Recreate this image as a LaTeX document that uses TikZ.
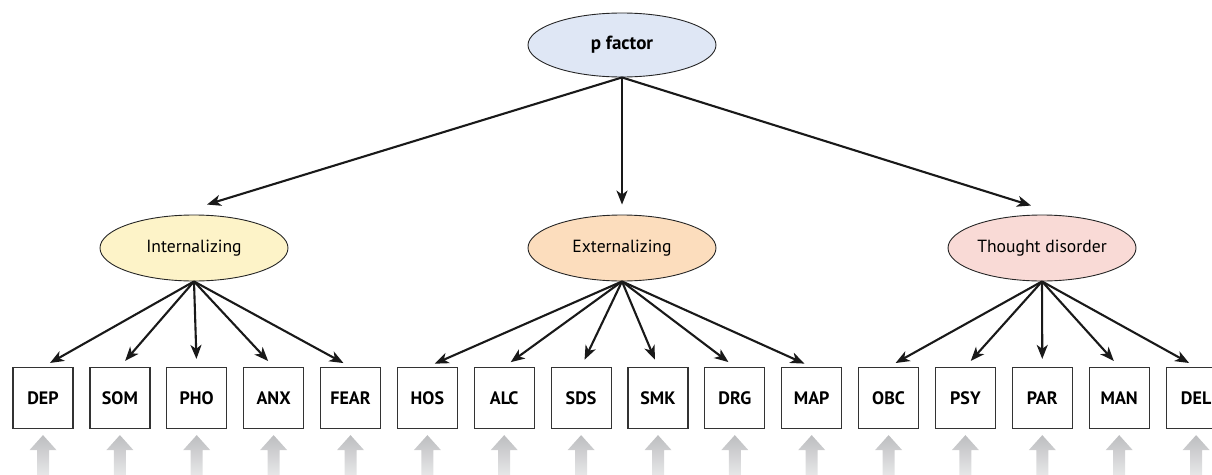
\documentclass[tikz,border=0pt]{standalone}
\usepackage{fontspec}
\setmainfont{PT Sans}
\usetikzlibrary{shapes.geometric,arrows.meta,calc}
\definecolor{pblue}{HTML}{DFE7F5}
\definecolor{intyellow}{HTML}{FDF3C8}
\definecolor{extorange}{HTML}{FCDDBD}
\definecolor{thdpink}{HTML}{F9DAD6}
\definecolor{feedgray}{HTML}{BDBEC0}
\definecolor{feedlight}{HTML}{ECECED}
\tikzset{
  factor/.style={ellipse,draw=black!85,line width=0.9pt,minimum width=188pt,minimum height=66pt,inner sep=0pt,font=\fontsize{17.6}{20}\selectfont},
  measure/.style={draw=black!80,line width=1.2pt,minimum width=60pt,minimum height=61pt,inner sep=0pt,font=\bfseries\fontsize{18}{21}\selectfont},
  link/.style={-{Stealth[length=14pt,width=11pt,inset=4pt]},line width=2.1pt,black!90},
  feed/.style={top color=feedgray,bottom color=feedlight}
}
\begin{document}
\begin{tikzpicture}[x=1pt,y=-1pt]
    \useasboundingbox (0,0) rectangle (1212,474);

    % factors
    \node[factor,fill=pblue,minimum height=64pt,font=\bfseries\fontsize{19}{22}\selectfont] (p) at (622,45) {p factor};
    \node[factor,fill=intyellow] (int) at (194,248) {Internalizing};
    \node[factor,fill=extorange] (ext) at (622,248) {Externalizing};
    \node[factor,fill=thdpink] (thd) at (1042,248) {Thought disorder};

    % measures
    \node[measure] (DEP) at (43,398) {DEP};
    \node[measure] (SOM) at (119.9,398) {SOM};
    \node[measure] (PHO) at (196.7,398) {PHO};
    \node[measure] (ANX) at (273.6,398) {ANX};
    \node[measure] (FEAR) at (350.5,398) {FEAR};
    \node[measure] (HOS) at (427.4,398) {HOS};
    \node[measure] (ALC) at (504.2,398) {ALC};
    \node[measure] (SDS) at (581.1,398) {SDS};
    \node[measure] (SMK) at (658,398) {SMK};
    \node[measure] (DRG) at (734.8,398) {DRG};
    \node[measure] (MAP) at (811.7,398) {MAP};
    \node[measure] (OBC) at (888.6,398) {OBC};
    \node[measure] (PSY) at (965.4,398) {PSY};
    \node[measure] (PAR) at (1042.3,398) {PAR};
    \node[measure] (MAN) at (1119.2,398) {MAN};
    \node[measure] (DEL) at (1196.1,398) {DEL};

    % p factor -> factors
    \draw[link] (p.south) -- ($(int.north)+(13,-10)$);
    \draw[link] (p.south) -- ($(ext.north)+(0,-10)$);
    \draw[link] (p.south) -- ($(thd.north)+(-11,-9)$);

    % factors -> measures
    \draw[link,shorten >=8pt] (int.south) -- (DEP.north);
    \draw[link,shorten >=8pt] (int.south) -- (SOM.north);
    \draw[link,shorten >=8pt] (int.south) -- (PHO.north);
    \draw[link,shorten >=8pt] (int.south) -- (ANX.north);
    \draw[link,shorten >=8pt] (int.south) -- (FEAR.north);

    \draw[link,shorten >=8pt] (ext.south) -- (HOS.north);
    \draw[link,shorten >=8pt] (ext.south) -- (ALC.north);
    \draw[link,shorten >=8pt] (ext.south) -- (SDS.north);
    \draw[link,shorten >=8pt] (ext.south) -- (SMK.north);
    \draw[link,shorten >=8pt] (ext.south) -- (DRG.north);
    \draw[link,shorten >=8pt] (ext.south) -- (MAP.north);

    \draw[link,shorten >=8pt] (thd.south) -- (OBC.north);
    \draw[link,shorten >=8pt] (thd.south) -- (PSY.north);
    \draw[link,shorten >=8pt] (thd.south) -- (PAR.north);
    \draw[link,shorten >=8pt] (thd.south) -- (MAN.north);
    \draw[link,shorten >=8pt] (thd.south) -- (DEL.north);

    % gray input arrows
    \foreach \m in {DEP,SOM,PHO,ANX,FEAR,HOS,ALC,SDS,SMK,DRG,MAP,OBC,PSY,PAR,MAN,DEL}
        \shade[feed] ($(\m.south)+(0,6)$) -- ++(13.5,15) -- ++(-7.5,0) -- ++(0,30)
            -- ++(-12,0) -- ++(0,-30) -- ++(-7.5,0) -- cycle;
\end{tikzpicture}
\end{document}
